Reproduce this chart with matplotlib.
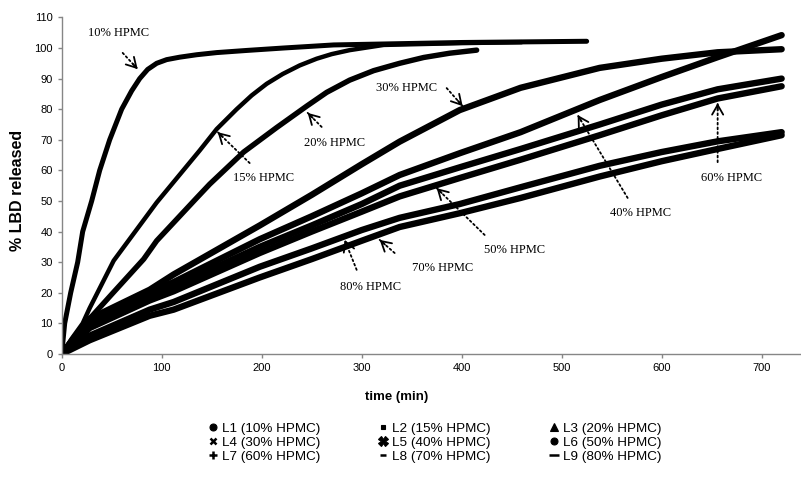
import matplotlib.pyplot as plt
from matplotlib.lines import Line2D

# ---- data (time in min, % LBD released) ----
t_L1 = [0, 3, 9, 16, 21, 30, 38, 48, 60, 70, 78, 86, 95, 105, 118, 135, 155, 185, 222, 272, 400, 525]
y_L1 = [0, 10, 20, 30, 40, 50, 60, 70, 80, 86, 90, 93, 95, 96.2, 97, 97.8, 98.5, 99.2, 100, 101, 101.8, 102.2]

t_L2 = [0, 10, 21, 28, 52, 95, 138, 155, 175, 190, 205, 221, 238, 255, 270, 288, 322, 400, 460]
y_L2 = [0, 5, 10, 15, 30.5, 49.5, 66.5, 73.5, 80, 84.5, 88.3, 91.5, 94.3, 96.5, 98, 99.3, 101, 101.6, 101.9]

t_L3 = [0, 10, 21, 50, 82, 95, 115, 135, 148, 182, 215, 245, 265, 288, 312, 338, 362, 388, 415]
y_L3 = [0, 4.5, 9, 19.5, 31, 37, 44, 51, 55.5, 66, 74, 81, 85.5, 89.5, 92.6, 95, 96.9, 98.3, 99.3]

# the slower batches share one time grid
t_slow = [0, 28, 88, 112, 198, 250, 300, 338, 398, 459, 538, 600, 656, 720]
y_L4 = [0, 11.5, 21, 26, 42, 52, 62, 69.4, 79.7, 87, 93.5, 96.5, 98.6, 99.6]
y_L5 = [0, 10.5, 20, 23.5, 37.5, 45, 52.5, 58.5, 65.6, 72.5, 83, 90.5, 97, 104.2]
y_L6 = [0, 9.5, 19, 22, 35, 42, 49, 55, 61, 67, 75, 81.5, 86.5, 90]
y_L7 = [0, 8.5, 17.5, 20.5, 33, 40, 46.5, 51.5, 57.5, 63.5, 71.5, 78, 83.5, 87.5]
y_L8 = [0, 6, 14.5, 17, 28.5, 34.5, 40.5, 44.5, 49, 54.5, 61.5, 66, 69.5, 72.5]
y_L9 = [0, 4.5, 12.5, 14.5, 25, 31, 37, 41.5, 46, 51, 58, 63, 67, 71.5]

series_labels = ["L1 (10% HPMC)", "L2 (15% HPMC)", "L3 (20% HPMC)",
                 "L4 (30% HPMC)", "L5 (40% HPMC)", "L6 (50% HPMC)",
                 "L7 (60% HPMC)", "L8 (70% HPMC)", "L9 (80% HPMC)"]

# in-plot callouts: text, text position, arrow tail, arrow tip (data units)
callout_text = ["10% HPMC", "15% HPMC", "20% HPMC", "30% HPMC", "40% HPMC",
                "50% HPMC", "60% HPMC", "70% HPMC", "80% HPMC"]
callout_pos = [(57, 104.9), (202, 57.5), (273, 69), (345, 86.9), (579, 46.1),
               (453, 34), (670, 57.5), (381, 28.1), (309, 21.9)]
callout_tail = [(61, 98.4), (188, 62.4), (260, 74.2), (385, 86.9), (566, 51),
                (423, 38.9), (656, 62.7), (333, 33), (295, 27.5)]
callout_tip = [(76, 93.1), (156, 72.5), (246, 78.8), (401, 81), (516, 78.1),
               (375, 54.2), (656, 82), (318, 37.3), (283, 37.3)]

AXIS_GREY = '#868686'
SANS = 'Liberation Sans'
SERIF = 'Liberation Serif'

fig = plt.figure(figsize=(8.01, 4.78), dpi=100)
ax = fig.add_axes([0.0770, 0.2594, 0.9213, 0.7042])

# 1. curves (dense marker runs in the original -> thick black lines here)
curves = [(t_L1, y_L1, 3.6), (t_L2, y_L2, 3.2), (t_L3, y_L3, 3.9),
          (t_slow, y_L4, 4.6), (t_slow, y_L5, 4.6), (t_slow, y_L6, 4.6),
          (t_slow, y_L7, 4.6), (t_slow, y_L8, 4.6), (t_slow, y_L9, 4.6)]
for t, y, lw in curves:
    ax.plot(t, y, color='black', linewidth=lw, solid_capstyle='round',
            solid_joinstyle='round')

ax.set_xlim(0, 738)
ax.set_ylim(0, 110)
ax.set_xticks(range(0, 701, 100))
ax.set_yticks(range(0, 111, 10))

# 2. Excel-like axes
for side in ['top', 'right']:
    ax.spines[side].set_visible(False)
for side in ['left', 'bottom']:
    ax.spines[side].set_color(AXIS_GREY)
    ax.spines[side].set_linewidth(1.0)
ax.tick_params(axis='both', direction='out', length=3, width=1.0,
               color=AXIS_GREY, labelsize=8, pad=3.5)
for lab in ax.get_xticklabels() + ax.get_yticklabels():
    lab.set_family(SANS)

ax.set_xlabel("time (min)", fontsize=9.5, fontweight='bold', family=SANS)
ax.xaxis.set_label_coords((396.5 - 61.7) / 738, -(391 - 354) / 336.6)
ax.set_ylabel("% LBD released", fontsize=11.5, fontweight='bold', family=SANS)
ax.yaxis.set_label_coords(-(61.7 - 25) / 738, (354 - 190) / 336.6)

# 3. callouts: dotted shaft + solid open arrowhead
fig.canvas.draw()
for txt, pos, tail, tip in zip(callout_text, callout_pos, callout_tail, callout_tip):
    ax.text(pos[0], pos[1], txt, family=SERIF, fontsize=9, ha='center', va='center')
    ax.annotate('', xy=tip, xytext=tail,
                arrowprops=dict(arrowstyle='-', linestyle=(0, (1, 1.6)),
                                linewidth=1.3, color='black', shrinkA=0, shrinkB=0))
    p_tail = ax.transData.transform(tail)
    p_tip = ax.transData.transform(tip)
    d = p_tip - p_tail
    d = d / (d ** 2).sum() ** 0.5
    off = -d * 7 * 72 / fig.dpi
    ax.annotate('', xy=tip, xytext=(off[0], off[1]), textcoords='offset points',
                arrowprops=dict(arrowstyle='->,head_length=0.7,head_width=0.4',
                                linewidth=1.3, color='black', shrinkA=0, shrinkB=0))

# 4. legend below the plot, filled row by row
marker_style = [('o', 5), ('s', 3.5), ('^', 5.5), ('x', 5), ('X', 6.5),
                ('o', 5), ('+', 6), ('_', 4), ('_', 7)]
handles = []
for (m, ms) in marker_style:
    handles.append(Line2D([], [], linestyle='none', marker=m, markersize=ms,
                          color='black', markeredgewidth=1.8 if m in ('x', '+', '_') else 0.8))
order = [0, 3, 6, 1, 4, 7, 2, 5, 8]
fig.legend([handles[i] for i in order], [series_labels[i] for i in order],
           ncol=3, loc='upper left', bbox_to_anchor=(0.2592, 0.1165),
           frameon=False, borderpad=0, borderaxespad=0, handlelength=0.8,
           handletextpad=0.25, columnspacing=4.3, labelspacing=0.13,
           prop={'family': SANS, 'size': 9.7})

fig.savefig('out.png', dpi=100)
